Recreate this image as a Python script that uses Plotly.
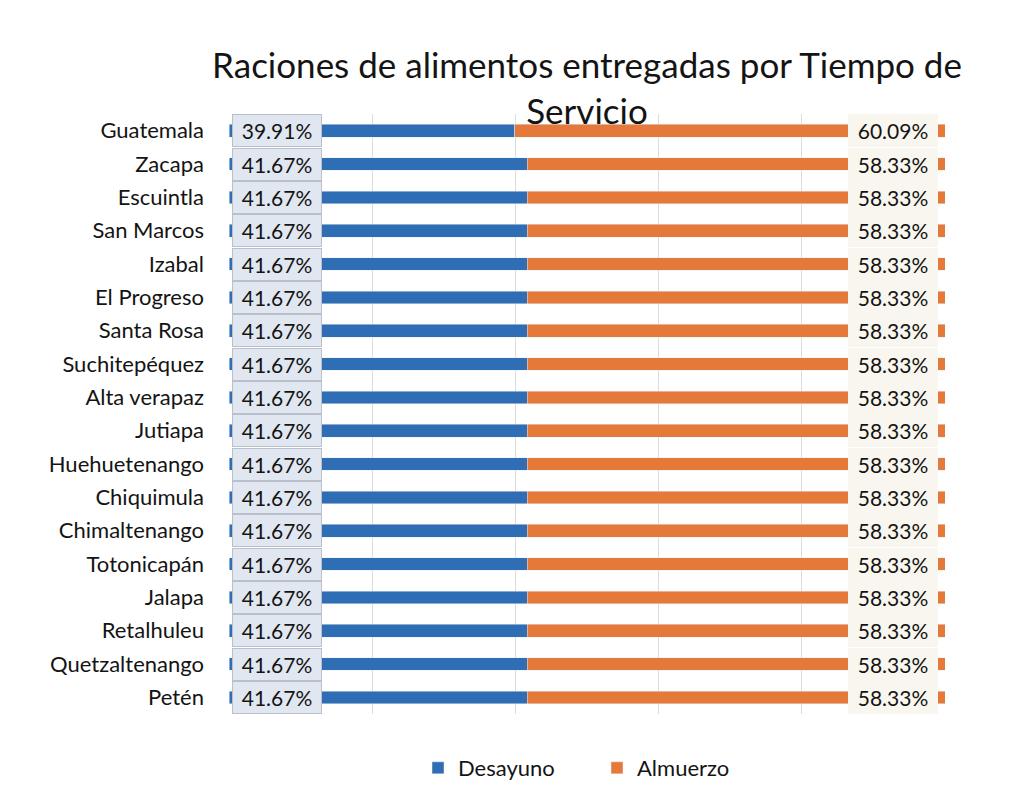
import plotly.graph_objects as go

# ============================================================
# Data
# ============================================================
departamentos = [
    "Guatemala", "Zacapa", "Escuintla", "San Marcos", "Izabal", "El Progreso",
    "Santa Rosa", "Suchitepéquez", "Alta verapaz", "Jutiapa", "Huehuetenango",
    "Chiquimula", "Chimaltenango", "Totonicapán", "Jalapa", "Retalhuleu",
    "Quetzaltenango", "Petén",
]
desayuno = [39.91] + [41.67] * 17
almuerzo = [60.09] + [58.33] * 17

titulo = "Raciones de alimentos entregadas por Tiempo de<br>Servicio"

# ============================================================
# Style
# ============================================================
FONT = "Lato"
BLUE = "#2f6db5"
ORANGE = "#e5793a"
TXT = "#141414"

fig = go.Figure()
fig.add_trace(go.Bar(y=departamentos, x=desayuno, name="Desayuno",
                     orientation="h", marker_color=BLUE, width=0.38))
fig.add_trace(go.Bar(y=departamentos, x=almuerzo, name="Almuerzo",
                     orientation="h", marker_color=ORANGE, width=0.38))

# data labels with boxes, as in the Excel original
for dep, d, a in zip(departamentos, desayuno, almuerzo):
    fig.add_annotation(x=0, y=dep, xref="x", yref="y", text=f"{d:.2f}%",
                       showarrow=False, xanchor="left", xshift=3,
                       width=86, height=29, borderpad=1,
                       bgcolor="#e0e7f1", bordercolor="#b9c0c9", borderwidth=1,
                       font=dict(family=FONT, size=21, color=TXT))
    fig.add_annotation(x=100, y=dep, xref="x", yref="y", text=f"{a:.2f}%",
                       showarrow=False, xanchor="right", xshift=-7,
                       width=88, height=31, borderpad=1,
                       bgcolor="#f8f6ee", borderwidth=0,
                       font=dict(family=FONT, size=21, color=TXT))

fig.update_layout(
    width=1012, height=794,
    barmode="stack",
    paper_bgcolor="white", plot_bgcolor="white",
    margin=dict(l=221, r=75, t=106, b=88, autoexpand=False),
    font=dict(family=FONT, size=22, color=TXT),
    title=dict(text=titulo, x=0.5, xref="paper", y=1 - 70 / 794,
               yref="container", yanchor="top",
               font=dict(family=FONT, size=35, color=TXT)),
    xaxis=dict(range=[0, 100], dtick=20, showticklabels=False,
               showgrid=True, gridcolor="#dcdcdc", gridwidth=1,
               zeroline=False, showline=False, automargin=False),
    yaxis=dict(autorange="reversed", showgrid=False, ticks="",
               ticklabelstandoff=24, automargin=False,
               tickfont=dict(family=FONT, size=22, color=TXT)),
    legend=dict(orientation="h", x=0.514, xanchor="center",
                y=-0.09, yanchor="middle", entrywidth=134,
                entrywidthmode="pixels", traceorder="normal",
                font=dict(family=FONT, size=22, color=TXT)),
)

fig.write_html("out.html")
